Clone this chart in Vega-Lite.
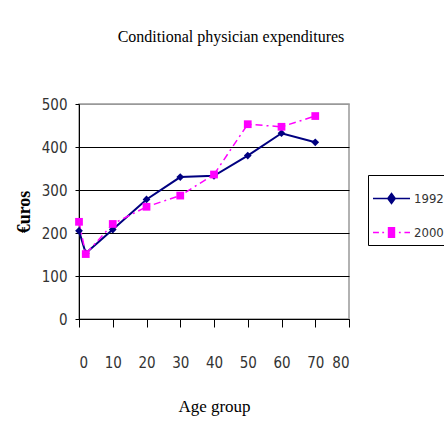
{
  "$schema": "https://vega.github.io/schema/vega-lite/v6.json",
  "autosize": {"type": "none"},
  "padding": {"left": 79, "top": 104, "right": 95, "bottom": 124},
  "width": 270,
  "height": 215,
  "background": "white",
  "title": {
    "text": "Conditional physician expenditures",
    "font": "Liberation Serif",
    "fontSize": 16,
    "fontWeight": "normal",
    "color": "black",
    "anchor": "middle",
    "dx": 17,
    "offset": 52
  },
  "data": {
    "values": [
      {"age": 0, "year": "1992", "value": 205},
      {"age": 2, "year": "1992", "value": 153},
      {"age": 10, "year": "1992", "value": 208},
      {"age": 20, "year": "1992", "value": 278},
      {"age": 30, "year": "1992", "value": 330},
      {"age": 40, "year": "1992", "value": 333},
      {"age": 50, "year": "1992", "value": 380},
      {"age": 60, "year": "1992", "value": 432},
      {"age": 70, "year": "1992", "value": 411},
      {"age": 0, "year": "2000", "value": 226},
      {"age": 2, "year": "2000", "value": 151},
      {"age": 10, "year": "2000", "value": 221},
      {"age": 20, "year": "2000", "value": 261},
      {"age": 30, "year": "2000", "value": 287},
      {"age": 40, "year": "2000", "value": 336},
      {"age": 50, "year": "2000", "value": 453},
      {"age": 60, "year": "2000", "value": 447},
      {"age": 70, "year": "2000", "value": 472}
    ]
  },
  "encoding": {
    "x": {
      "field": "age", "type": "quantitative",
      "scale": {"domain": [0, 80], "nice": false},
      "axis": {
        "values": [0, 10, 20, 30, 40, 50, 60, 70, 80],
        "title": "Age group",
        "titleFont": "Liberation Serif", "titleFontSize": 17, "titleFontWeight": "normal", "titleColor": "black",
        "titlePadding": 28,
        "labelFont": "DejaVu Sans Condensed, Liberation Sans Narrow, Liberation Sans", "labelFontSize": 15, "labelColor": "#333",
        "labelPadding": 28,
        "tickSize": 8, "tickColor": "black", "domainColor": "black",
        "grid": false
      }
    },
    "y": {
      "field": "value", "type": "quantitative",
      "scale": {"domain": [0, 500], "nice": false},
      "axis": {
        "values": [0, 100, 200, 300, 400, 500],
        "title": "€uros",
        "titleFont": "Liberation Serif", "titleFontSize": 18, "titleFontWeight": "bold", "titleColor": "black",
        "titlePadding": 8,
        "labelFont": "DejaVu Sans Condensed, Liberation Sans Narrow, Liberation Sans", "labelFontSize": 15, "labelColor": "#333",
        "labelPadding": 8,
        "tickSize": 4, "tickColor": "black", "domainColor": "black",
        "grid": true,
        "gridColor": {"condition": {"test": "datum.value == 500", "value": "#999999"}, "value": "black"},
        "gridOpacity": 1
      }
    },
    "color": {
      "field": "year", "type": "nominal",
      "scale": {"domain": ["1992", "2000"], "range": ["#000080", "#ff00ff"]},
      "legend": {
        "title": null,
        "orient": "none",
        "legendX": 289,
        "legendY": 71,
        "strokeColor": "black",
        "fillColor": "white",
        "padding": 4,
        "symbolSize": 1369,
        "symbolStrokeWidth": 1.5,
        "symbolType": "M-1,0L1,0M0,-0.27L0.2,0L0,0.27L-0.2,0Z",
        "labelFont": "DejaVu Sans Condensed, Liberation Sans Narrow, Liberation Sans",
        "labelFontSize": 13,
        "labelColor": "#333",
        "labelOffset": 3,
        "rowPadding": 6,
        "encode": {
          "symbols": {
            "update": {
              "shape": {"signal": "datum.value === '1992' ? 'M-1,0L1,0M0,-0.27L0.2,0L0,0.27L-0.2,0Z' : 'M-1,0L-0.68,0M-0.5,0L-0.4,0M-0.16,-0.26L0.16,-0.26L0.16,0.26L-0.16,0.26ZM0.4,0L0.5,0M0.7,0L1,0'"},
              "fill": {"signal": "datum.value === '1992' ? '#000080' : '#ff00ff'"},
              "stroke": {"signal": "datum.value === '1992' ? '#000080' : '#ff00ff'"},
              "fillOpacity": {"value": 1}
            }
          }
        }
      }
    }
  },
  "layer": [
    {
      "transform": [{"filter": "datum.year == '1992'"}],
      "mark": {"type": "line", "strokeWidth": 2}
    },
    {
      "transform": [{"filter": "datum.year == '2000'"}],
      "mark": {"type": "line", "strokeWidth": 1.5, "strokeDash": [7, 4, 2, 4]}
    },
    {
      "transform": [{"filter": "datum.year == '1992'"}],
      "mark": {"type": "point", "filled": true, "opacity": 1, "size": 60, "shape": "diamond"}
    },
    {
      "transform": [{"filter": "datum.year == '2000'"}],
      "mark": {"type": "point", "filled": true, "opacity": 1, "size": 60, "shape": "square"}
    }
  ],
  "config": {
    "view": {"stroke": "#999999", "strokeWidth": 1.5}
  }
}
